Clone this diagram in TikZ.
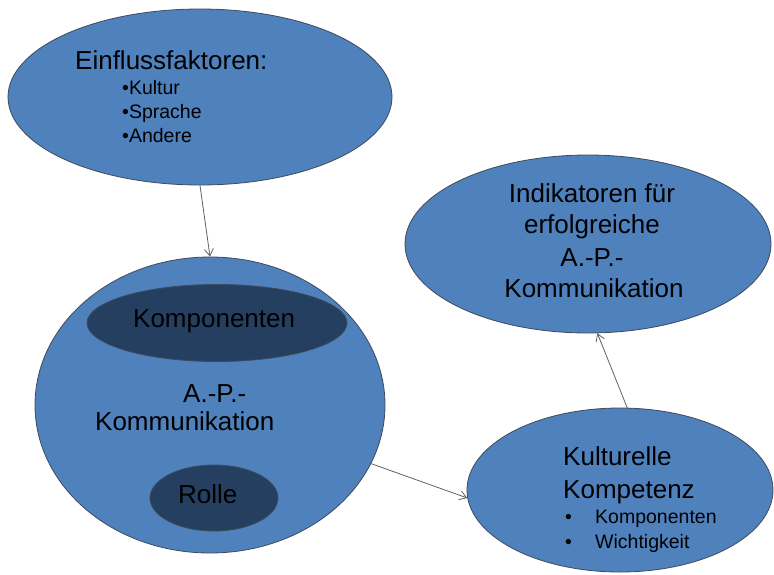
\documentclass[tikz,border=0pt]{standalone}
\usepackage{fontspec}
\setmainfont{Liberation Sans}
\usetikzlibrary{shapes.geometric,arrows.meta}
\definecolor{bubble}{HTML}{4F81BD}
\definecolor{bubbledark}{HTML}{243F60}
\definecolor{rim}{HTML}{3E4B5C}
\definecolor{link}{HTML}{5F5F5F}
\tikzset{
  bubble/.style={ellipse, draw=rim, line width=0.8pt, fill=bubble, inner sep=0pt},
  inner bubble/.style={ellipse, draw=rim, line width=0.8pt, fill=bubbledark, inner sep=0pt},
  big/.style={inner sep=0pt, font=\fontsize{26}{30}\selectfont},
  small/.style={inner sep=0pt, font=\fontsize{19.5}{24}\selectfont},
  link/.style={draw=link, line width=0.8pt, -{Straight Barb[length=7pt,width=9pt]}}
}
\begin{document}
\begin{tikzpicture}[x=1pt,y=-1pt]
\useasboundingbox (0,0) rectangle (774,574);

% outer ellipses
\node[bubble, minimum width=384pt, minimum height=176pt] (infl) at (200,97) {};
\node[bubble, minimum width=350pt, minimum height=296pt] (apk) at (210,405) {};
\node[bubble, minimum width=366pt, minimum height=178pt] (ind) at (588,244) {};
\node[bubble, minimum width=306pt, minimum height=164pt] (kk) at (620,490) {};

% inner ellipses of the communication bubble
\node[inner bubble, minimum width=260pt, minimum height=77pt] (komp) at (217,323) {};
\node[inner bubble, minimum width=128pt, minimum height=66pt] (rolle) at (214,498) {};

% influence factors
\node[big, anchor=base west] (t1) at (75,69) {Einflussfaktoren:};
\node[small, anchor=base west] (t1a) at (122,94) {•Kultur};
\node[small, anchor=base west] (t1b) at (122,118) {•Sprache};
\node[small, anchor=base west] (t1c) at (122,142) {•Andere};

% communication
\node[big, anchor=base west] (t2a) at (183,402) {A.-P.-};
\node[big, anchor=base west] (t2b) at (95,430) {Kommunikation};
\node[big, anchor=base west] (t2c) at (133,327) {Komponenten};
\node[big, anchor=base west] (t2d) at (178,503) {Rolle};

% indicators
\node[big, anchor=base] (t3a) at (592,202) {Indikatoren für};
\node[big, anchor=base] (t3b) at (592,233) {erfolgreiche};
\node[big, anchor=base] (t3c) at (592,266) {A.-P.-};
\node[big, anchor=base] (t3d) at (594,297) {Kommunikation};

% cultural competence
\node[big, anchor=base west] (t4a) at (563,465) {Kulturelle};
\node[big, anchor=base west] (t4b) at (563,498) {Kompetenz};
\node[small, anchor=base west] (t4c) at (565,523) {•};
\node[small, anchor=base west] (t4d) at (595,523) {Komponenten};
\node[small, anchor=base west] (t4e) at (565,548) {•};
\node[small, anchor=base west] (t4f) at (595,548) {Wichtigkeit};

% connectors
\draw[link] (infl.south) -- (apk.north);
\draw[link] (apk.-20) -- (kk.183);
\draw[link] (kk.85) -- (ind.-84);
\end{tikzpicture}
\end{document}
